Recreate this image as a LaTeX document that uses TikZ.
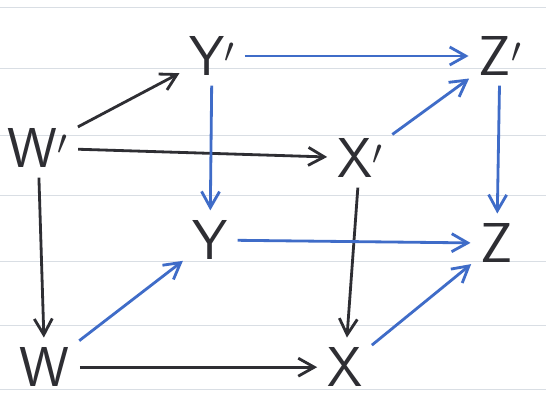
\documentclass[tikz,border=0pt]{standalone}
\usepackage{xcolor}
\definecolor{inkBlack}{HTML}{2E2E33}
\definecolor{inkBlue}{HTML}{3F6CC8}
\definecolor{ruleGray}{HTML}{D9DEE4}
\usepackage{tikz}
\usetikzlibrary{arrows.meta}
\tikzset{
    % objects of the cube
    obj/.style={
        font=\sffamily\fontsize{40}{44}\selectfont,
        text=inkBlack,
        inner sep=5pt,
    },
    % black arrow
    arrow/.style={
        -{Straight Barb[length=4mm, width=4.5mm]},
        line width=2pt,
        draw=inkBlack,
        shorten >=2pt,
        shorten <=2pt,
    },
    % blue arrow
    arrow blue/.style={
        arrow,
        draw=inkBlue,
    },
    % ruled paper lines
    paper rule/.style={
        draw=ruleGray,
        line width=0.6pt,
    },
}
\begin{document}
\begin{tikzpicture}
    \useasboundingbox (0,0) rectangle (13.65,9.9);
    \fill[white] (0,0) rectangle (13.65,9.9);
    \foreach \y in {9.72,8.2,6.52,5.02,3.37,1.77,0.17}
        \draw[paper rule] (0,\y) -- (13.65,\y);

    \node (Wp) [obj] at (0.95,6.2) {W$^{\prime}$};
    \node (Yp) [obj] at (5.3,8.5) {Y$^{\prime}$};
    \node (Zp) [obj] at (12.5,8.5) {Z$^{\prime}$};
    \node (Xp) [obj] at (9.0,5.95) {X$^{\prime}$};
    \node (Y) [obj] at (5.25,3.9) {Y};
    \node (Z) [obj] at (12.42,3.82) {Z};
    \node (W) [obj] at (1.12,0.72) {W};
    \node (X) [obj] at (8.62,0.72) {X};

    \draw [arrow] (Wp) -- (Yp);
    \draw [arrow blue] (Yp) -- (Zp);
    \draw [arrow] (Wp) -- (Xp);
    \draw [arrow blue] (Xp) -- (Zp);
    \draw [arrow] (Wp) -- (W);
    \draw [arrow blue] (Yp) -- (Y);
    \draw [arrow] (Xp) -- (X);
    \draw [arrow blue] (Zp) -- (Z);
    \draw [arrow blue] (W) -- (Y);
    \draw [arrow blue] (Y) -- (Z);
    \draw [arrow] (W) -- (X);
    \draw [arrow blue] (X) -- (Z);
\end{tikzpicture}
\end{document}
